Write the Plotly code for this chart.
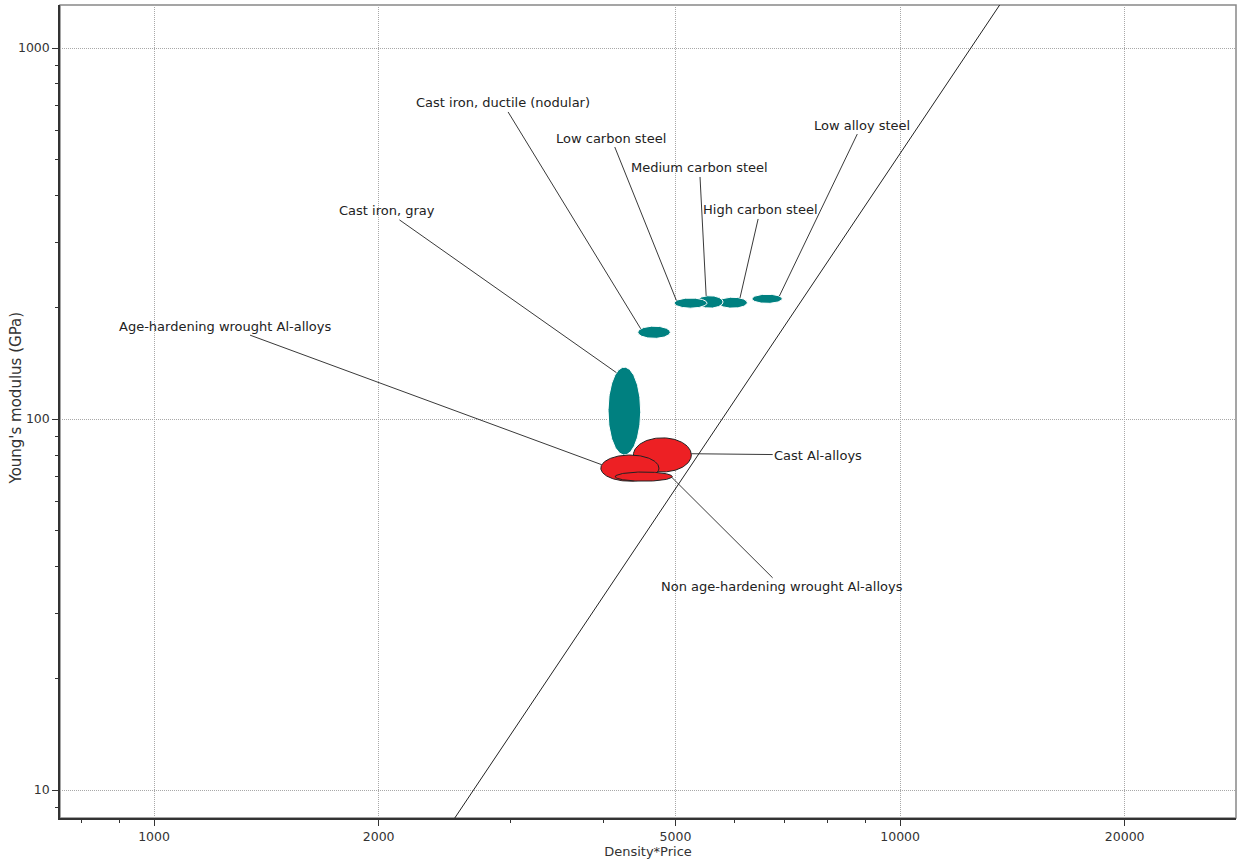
import numpy as np
import plotly.graph_objects as go

# Material property bubbles: ranges of density*price and Young's modulus (GPa)
materials = [
    "Cast iron, gray",
    "Cast iron, ductile (nodular)",
    "Low alloy steel",
    "High carbon steel",
    "Medium carbon steel",
    "Low carbon steel",
    "Cast Al-alloys",
    "Age-hardening wrought Al-alloys",
    "Non age-hardening wrought Al-alloys",
]
dp_low = [4060, 4450, 6330, 5700, 5330, 4980, 4390, 3970, 4150]
dp_high = [4490, 4920, 6950, 6240, 5790, 5510, 5250, 4750, 4950]
e_low = [80, 165, 205, 199, 199, 199, 72, 68, 68]
e_high = [138, 178, 217, 213, 215, 212, 89, 80, 72]
family = ["ferrous"] * 6 + ["aluminium"] * 3

# Selection guide line: E = E_ref * (x / x_ref)^3
guide_x_ref = 2680
guide_e_ref = 10
guide_x = [700, 30000]

# Tick marks
x_major = [1000, 2000, 5000, 10000, 20000]
x_minor = [800, 900, 3000, 4000, 6000, 7000, 8000, 9000]
y_major = [10, 100, 1000]
y_minor = [9] + [v * 10 for v in range(2, 10)] + [v * 100 for v in range(2, 10)]

# Styling and label placement
styles = {
    "ferrous": dict(fill="#008080", line="#ffffff", width=1),
    "aluminium": dict(fill="#ED2024", line="#222222", width=1),
}
# label centre (data units) and attachment angle on the bubble (degrees)
label_pos = {
    "Cast iron, gray": (2050, 364, 119),
    "Cast iron, ductile (nodular)": (2932, 711, 145),
    "Low alloy steel": (8880, 620, 36),
    "High carbon steel": (6493, 366, 60),
    "Medium carbon steel": (5385, 475, 105),
    "Low carbon steel": (4099, 572, 150),
    "Cast Al-alloys": (7766, 80, 4),
    "Age-hardening wrought Al-alloys": (1247, 178, 165),
    "Non age-hardening wrought Al-alloys": (6939, 35.3, -10),
}

x_range = [np.log10(748), np.log10(28200)]
y_range = [np.log10(8.41), np.log10(1306)]

fig = go.Figure()

t = np.linspace(0, 2 * np.pi, 181)
annotations = []
for name, xl, xh, yl, yh, fam in zip(materials, dp_low, dp_high, e_low, e_high, family):
    cx = (np.log10(xl) + np.log10(xh)) / 2
    cy = (np.log10(yl) + np.log10(yh)) / 2
    a = (np.log10(xh) - np.log10(xl)) / 2
    b = (np.log10(yh) - np.log10(yl)) / 2
    st = styles[fam]
    fig.add_trace(go.Scatter(
        x=10 ** (cx + a * np.cos(t)),
        y=10 ** (cy + b * np.sin(t)),
        mode="lines", fill="toself",
        fillcolor=st["fill"],
        line=dict(color=st["line"], width=st["width"]),
        hoverinfo="text", text=name, showlegend=False,
    ))
    lx, ly, ang = label_pos[name]
    th = np.deg2rad(ang)
    annotations.append(dict(
        x=cx + a * np.cos(th), y=cy + b * np.sin(th),
        xref="x", yref="y",
        ax=np.log10(lx), ay=np.log10(ly), axref="x", ayref="y",
        text=name, showarrow=True, arrowhead=0, arrowwidth=0.9,
        arrowcolor="#222222",
        font=dict(family="DejaVu Sans", size=13, color="#222222"),
    ))

# Y axis title
annotations.append(dict(
    text="Young's modulus (GPa)", textangle=-90,
    xref="paper", yref="paper", x=-0.0374, y=0.516,
    xanchor="center", yanchor="middle", showarrow=False,
    font=dict(family="DejaVu Sans", size=15, color="#333333"),
))

gx = np.array(guide_x, dtype=float)
fig.add_trace(go.Scatter(
    x=gx, y=guide_e_ref * (gx / guide_x_ref) ** 3,
    mode="lines", line=dict(color="#222222", width=1),
    hoverinfo="skip", showlegend=False,
))

axis_common = dict(
    type="log",
    showline=True, linecolor="#333333", linewidth=1.5,
    ticks="outside", ticklen=6, tickcolor="#333333", tickwidth=1,
    showgrid=True, gridcolor="#a8a8a8", griddash="1px,1px", gridwidth=1,
    zeroline=False,
    tickfont=dict(family="DejaVu Sans", size=12.5, color="#333333"),
)

fig.update_layout(
    width=1237, height=863,
    margin=dict(l=60, r=1, t=5, b=45),
    paper_bgcolor="white", plot_bgcolor="white",
    annotations=annotations,
    xaxis=dict(
        axis_common, range=x_range,
        tickmode="array", tickvals=x_major,
        ticktext=[str(v) for v in x_major],
        minor=dict(tickmode="array", tickvals=x_minor, ticks="outside",
                   ticklen=3, tickcolor="#333333", showgrid=False),
        title=dict(text="Density*Price", standoff=4,
                   font=dict(family="DejaVu Sans", size=13, color="#333333")),
    ),
    yaxis=dict(
        axis_common, range=y_range,
        tickmode="array", tickvals=y_major,
        ticktext=[str(v) for v in y_major],
        minor=dict(tickmode="array", tickvals=y_minor, ticks="outside",
                   ticklen=3, tickcolor="#333333", showgrid=False),
    ),
    shapes=[dict(type="rect", xref="paper", yref="paper", x0=0, x1=1, y0=0, y1=1,
                 line=dict(color="#888888", width=1.5), layer="below")],
)

fig.write_html("out.html")
